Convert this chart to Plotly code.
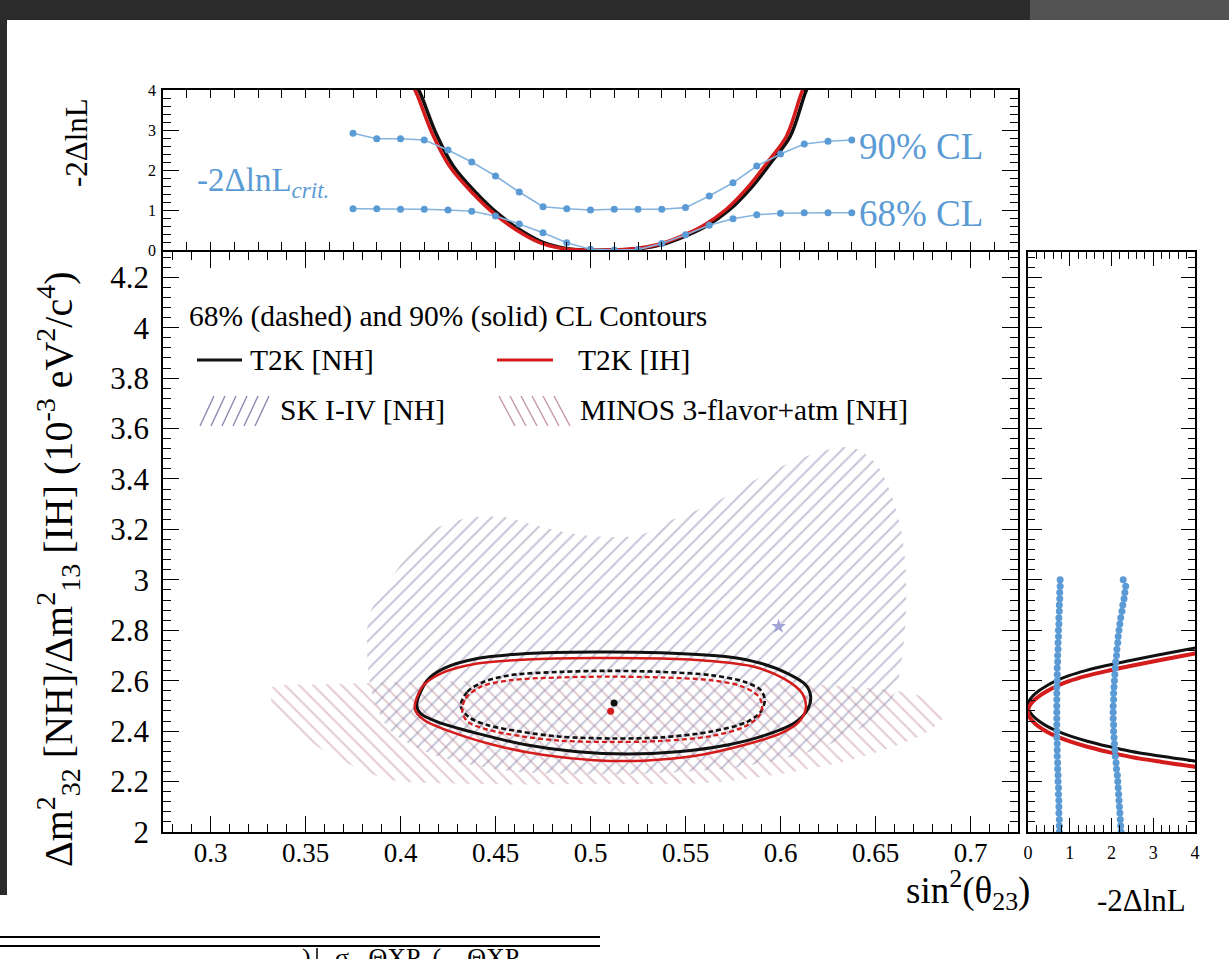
import plotly.graph_objects as go

W, H = 1229, 959

# ---------------- data ----------------
# top panel: T2K profile -2ΔlnL vs sin^2(theta23)
top_sin2_nh = [0.404, 0.410, 0.419, 0.428, 0.440, 0.451, 0.463, 0.475, 0.487, 0.499, 0.511,
               0.525, 0.537, 0.549, 0.561, 0.573, 0.585, 0.596, 0.605, 0.613, 0.618]
top_sin2_ih = [0.402, 0.408, 0.417, 0.426, 0.438, 0.449, 0.461, 0.473, 0.485, 0.497, 0.509,
               0.523, 0.535, 0.547, 0.559, 0.571, 0.583, 0.594, 0.603, 0.611, 0.616]
top_nll = [4.5, 3.96, 2.88, 2.08, 1.42, 0.92, 0.50, 0.19, 0.04, 0.0, 0.0,
           0.03, 0.13, 0.33, 0.60, 1.00, 1.58, 2.25, 2.83, 3.92, 4.5]

# top panel: critical values
scan_sin2 = [0.375, 0.3875, 0.4, 0.4125, 0.425, 0.4375, 0.45, 0.4625, 0.475, 0.4875, 0.5,
             0.5125, 0.525, 0.5375, 0.55, 0.5625, 0.575, 0.5875, 0.6, 0.6125, 0.625, 0.6375]
crit90_top = [2.92, 2.78, 2.78, 2.75, 2.50, 2.20, 1.85, 1.45, 1.08, 1.03, 1.00,
              1.02, 1.02, 1.02, 1.06, 1.35, 1.68, 2.10, 2.40, 2.65, 2.72, 2.75]
crit68_top = [1.03, 1.03, 1.02, 1.02, 1.00, 0.97, 0.85, 0.65, 0.43, 0.18, 0.02,
              0.00, 0.01, 0.16, 0.38, 0.62, 0.78, 0.88, 0.92, 0.93, 0.93, 0.93]

# right panel: T2K profile vs Δm²
right_dm_nh = [2.27, 2.28, 2.30, 2.32, 2.34, 2.36, 2.38, 2.40, 2.42, 2.44, 2.46, 2.48, 2.50,
               2.52, 2.54, 2.56, 2.58, 2.60, 2.62, 2.64, 2.66, 2.68, 2.70, 2.72, 2.74]
right_dm_ih = [2.248, 2.258, 2.278, 2.298, 2.318, 2.338, 2.358, 2.378, 2.398, 2.418, 2.438, 2.458, 2.478,
               2.498, 2.518, 2.538, 2.558, 2.578, 2.598, 2.618, 2.638, 2.658, 2.678, 2.698, 2.718]
right_nll = [4.5, 4.05, 3.2, 2.45, 1.9, 1.42, 1.02, 0.7, 0.45, 0.26, 0.12, 0.03, 0.0,
             0.03, 0.12, 0.26, 0.45, 0.68, 0.98, 1.38, 1.88, 2.45, 3.05, 3.68, 4.35]

# right panel: critical values
scan_dm = [2.0, 2.025, 2.05, 2.075, 2.1, 2.125, 2.15, 2.175, 2.2, 2.225, 2.25, 2.275, 2.3, 2.325,
           2.35, 2.375, 2.4, 2.425, 2.45, 2.475, 2.5, 2.525, 2.55, 2.575, 2.6, 2.625, 2.65, 2.675,
           2.7, 2.725, 2.75, 2.775, 2.8, 2.825, 2.85, 2.875, 2.9, 2.925, 2.95, 2.975, 3.0]
crit90_right = [2.23, 2.22, 2.21, 2.20, 2.19, 2.18, 2.17, 2.16, 2.15, 2.14, 2.12, 2.11, 2.09, 2.08,
                2.07, 2.06, 2.05, 2.05, 2.04, 2.04, 2.04, 2.05, 2.05, 2.06, 2.07, 2.08, 2.09, 2.10,
                2.12, 2.13, 2.15, 2.16, 2.18, 2.20, 2.22, 2.25, 2.27, 2.30, 2.32, 2.34, 2.28]
crit68_right = [0.75, 0.75, 0.75, 0.74, 0.74, 0.74, 0.73, 0.73, 0.72, 0.72, 0.71, 0.71, 0.70, 0.70,
                0.70, 0.69, 0.69, 0.69, 0.69, 0.69, 0.69, 0.69, 0.69, 0.69, 0.70, 0.70, 0.70, 0.71,
                0.71, 0.72, 0.72, 0.73, 0.73, 0.74, 0.74, 0.75, 0.75, 0.76, 0.76, 0.77, 0.77]

# main panel contours
nh90_x = [0.4085, 0.4141, 0.4229, 0.4404, 0.4667, 0.5018, 0.5369, 0.5720, 0.5896, 0.6036, 0.6133, 0.6159,
          0.6141, 0.6071, 0.5896, 0.5720, 0.5457, 0.5194, 0.4931, 0.4667, 0.4404, 0.4194, 0.4106, 0.4085]
nh90_y = [2.503, 2.602, 2.649, 2.688, 2.708, 2.714, 2.711, 2.695, 2.669, 2.629, 2.583, 2.536,
          2.484, 2.431, 2.378, 2.345, 2.318, 2.309, 2.318, 2.345, 2.391, 2.437, 2.470, 2.503]
ih90_x = [0.4075, 0.4115, 0.4211, 0.4404, 0.4667, 0.5018, 0.5369, 0.5633, 0.5861, 0.6018, 0.6115, 0.6133,
          0.6097, 0.6001, 0.5808, 0.5545, 0.5282, 0.5018, 0.4755, 0.4492, 0.4264, 0.4124, 0.4075]
ih90_y = [2.490, 2.576, 2.628, 2.668, 2.684, 2.690, 2.688, 2.678, 2.655, 2.608, 2.549, 2.490,
          2.437, 2.391, 2.345, 2.301, 2.283, 2.285, 2.305, 2.345, 2.398, 2.444, 2.490]
nh68_x = [0.4317, 0.4352, 0.4439, 0.4580, 0.4843, 0.5106, 0.5369, 0.5633, 0.5808, 0.5896, 0.5917,
          0.5896, 0.5825, 0.5633, 0.5369, 0.5106, 0.4843, 0.4633, 0.4457, 0.4361, 0.4317]
nh68_y = [2.499, 2.556, 2.596, 2.622, 2.635, 2.639, 2.635, 2.622, 2.596, 2.563, 2.523,
          2.477, 2.437, 2.398, 2.375, 2.371, 2.378, 2.398, 2.424, 2.455, 2.499]
ih68_x = [0.4325, 0.4343, 0.4422, 0.4580, 0.4843, 0.5106, 0.5369, 0.5633, 0.5790, 0.5878, 0.5904,
          0.5887, 0.5808, 0.5633, 0.5369, 0.5106, 0.4843, 0.4633, 0.4457, 0.4355, 0.4325]
ih68_y = [2.477, 2.530, 2.576, 2.602, 2.613, 2.616, 2.613, 2.602, 2.579, 2.543, 2.503,
          2.460, 2.417, 2.380, 2.361, 2.357, 2.362, 2.380, 2.406, 2.437, 2.477]

bestfit_nh = ([0.5124], [2.512])
bestfit_ih = ([0.5106], [2.479])
bestfit_sk = ([0.599], [2.815])

# SK I-IV 90% region (hatched)
sk_x = [0.3834, 0.3980, 0.4173, 0.4342, 0.4535, 0.4704, 0.4897, 0.5090, 0.5259, 0.5428, 0.5645,
        0.5863, 0.6104, 0.6322, 0.6418, 0.6515, 0.6587, 0.6635, 0.6659, 0.6659, 0.6635, 0.660,
        0.650, 0.620, 0.580, 0.520, 0.460, 0.420, 0.395, 0.385, 0.3834]
sk_y = [2.853, 3.038, 3.197, 3.243, 3.250, 3.217, 3.184, 3.170, 3.177, 3.237, 3.303,
        3.395, 3.481, 3.527, 3.514, 3.448, 3.329, 3.197, 3.038, 2.853, 2.669, 2.55,
        2.45, 2.33, 2.26, 2.23, 2.24, 2.30, 2.40, 2.55, 2.853]
# MINOS region (hatched)
minos_x = [0.332, 0.360, 0.400, 0.450, 0.500, 0.550, 0.600, 0.640, 0.668, 0.683, 0.686, 0.678, 0.660,
           0.634, 0.600, 0.562, 0.500, 0.440, 0.393, 0.365, 0.345, 0.333, 0.332]
minos_y = [2.57, 2.585, 2.595, 2.60, 2.60, 2.60, 2.59, 2.575, 2.55, 2.51, 2.46, 2.40, 2.34,
           2.28, 2.23, 2.195, 2.19, 2.19, 2.21, 2.30, 2.40, 2.50, 2.57]

# tick labels
main_x_tickvals = [0.3, 0.35, 0.4, 0.45, 0.5, 0.55, 0.6, 0.65, 0.7]
main_x_ticktext = ['0.3', '0.35', '0.4', '0.45', '0.5', '0.55', '0.6', '0.65', '0.7']
main_y_tickvals = [2.0, 2.2, 2.4, 2.6, 2.8, 3.0, 3.2, 3.4, 3.6, 3.8, 4.0, 4.2]
main_y_ticktext = ['2', '2.2', '2.4', '2.6', '2.8', '3', '3.2', '3.4', '3.6', '3.8', '4', '4.2']
nll_tickvals = [0, 1, 2, 3, 4]
nll_ticktext = ['0', '1', '2', '3', '4']

# ---------------- styling ----------------
SERIF = "Liberation Serif, Times New Roman, Times, serif"
BLACK = "#111111"
RED = "#d41c1c"
BLUE = "#5b9bd5"
SKC = "#8a8ab0"
MINC = "#c596a3"


def X(px):
    return px / W


def Y(py):
    return 1 - py / H


fig = go.Figure()

# --- main panel hatched regions ---
fig.add_trace(go.Scatter(x=minos_x, y=minos_y, mode='lines', fill='toself', line=dict(width=0, shape='spline', smoothing=0.8),
                         fillcolor='rgba(0,0,0,0)',
                         fillpattern=dict(shape='\\', fgcolor=MINC, bgcolor='rgba(0,0,0,0)', size=10, solidity=0.2),
                         xaxis='x', yaxis='y', showlegend=False, hoverinfo='skip'))
fig.add_trace(go.Scatter(x=sk_x, y=sk_y, mode='lines', fill='toself', line=dict(width=0, shape='spline', smoothing=0.8),
                         fillcolor='rgba(0,0,0,0)',
                         fillpattern=dict(shape='/', fgcolor=SKC, bgcolor='rgba(0,0,0,0)', size=10, solidity=0.2),
                         xaxis='x', yaxis='y', showlegend=False, hoverinfo='skip'))

# --- contours ---
for cx, cy, col, w, dash in [(nh90_x, nh90_y, BLACK, 3, 'solid'), (ih90_x, ih90_y, RED, 2.5, 'solid'),
                             (nh68_x, nh68_y, BLACK, 2.6, '5px,3px'), (ih68_x, ih68_y, RED, 2.3, '5px,3px')]:
    fig.add_trace(go.Scatter(x=cx, y=cy, mode='lines', line=dict(color=col, width=w, dash=dash, shape='spline', smoothing=0.9),
                             xaxis='x', yaxis='y', showlegend=False, hoverinfo='skip'))

fig.add_trace(go.Scatter(x=bestfit_nh[0], y=bestfit_nh[1], mode='markers', marker=dict(color=BLACK, size=7),
                         xaxis='x', yaxis='y', showlegend=False))
fig.add_trace(go.Scatter(x=bestfit_ih[0], y=bestfit_ih[1], mode='markers', marker=dict(color=RED, size=7),
                         xaxis='x', yaxis='y', showlegend=False))
fig.add_trace(go.Scatter(x=bestfit_sk[0], y=bestfit_sk[1], mode='markers', marker=dict(color='#a3a3d6', size=11, symbol='star'),
                         xaxis='x', yaxis='y', showlegend=False))

# --- top panel ---
fig.add_trace(go.Scatter(x=top_sin2_nh, y=top_nll, mode='lines', line=dict(color=BLACK, width=3.5, shape='spline'),
                         xaxis='x2', yaxis='y2', showlegend=False, hoverinfo='skip'))
fig.add_trace(go.Scatter(x=top_sin2_ih, y=top_nll, mode='lines', line=dict(color=RED, width=3.5, shape='spline'),
                         xaxis='x2', yaxis='y2', showlegend=False, hoverinfo='skip'))
for vals in (crit90_top, crit68_top):
    fig.add_trace(go.Scatter(x=scan_sin2, y=vals, mode='lines+markers',
                             line=dict(color='#86b4df', width=1.6), marker=dict(color=BLUE, size=7),
                             xaxis='x2', yaxis='y2', showlegend=False, hoverinfo='skip'))

# --- right panel ---
fig.add_trace(go.Scatter(x=right_nll, y=right_dm_nh, mode='lines', line=dict(color=BLACK, width=3, shape='spline'),
                         xaxis='x3', yaxis='y3', showlegend=False, hoverinfo='skip'))
fig.add_trace(go.Scatter(x=right_nll, y=right_dm_ih, mode='lines', line=dict(color=RED, width=4, shape='spline'),
                         xaxis='x3', yaxis='y3', showlegend=False, hoverinfo='skip'))
for vals in (crit68_right, crit90_right):
    fig.add_trace(go.Scatter(x=vals, y=scan_dm, mode='lines+markers',
                             line=dict(color='#86b4df', width=1.5), marker=dict(color=BLUE, size=7),
                             xaxis='x3', yaxis='y3', showlegend=False, hoverinfo='skip'))

axis_common = dict(showline=True, linecolor='black', linewidth=1.6, ticks='inside', mirror='ticks',
                   tickcolor='black', tickwidth=1.3, showgrid=False, zeroline=False, automargin=False,
                   tickfont=dict(family=SERIF, size=27, color='black'))

main_x_dom = [X(163), X(1018)]
main_y_dom = [Y(832), Y(252)]
top_y_dom = [Y(250), Y(90)]
right_x_dom = [X(1028), X(1195)]

fig.update_layout(
    autosize=True, margin=dict(l=0, r=0, t=0, b=0, pad=0),
    paper_bgcolor='white', plot_bgcolor='rgba(0,0,0,0)',
    font=dict(family=SERIF, color='black'),
    showlegend=False,
    xaxis=dict(axis_common, domain=main_x_dom, range=[0.275, 0.725], anchor='y',
               tickmode='array', tickvals=main_x_tickvals, ticktext=main_x_ticktext, ticklen=16,
               ticklabelstandoff=-4,
               minor=dict(ticks='inside', ticklen=8, dtick=0.01, tick0=0.3, tickcolor='black', tickwidth=1.2)),
    yaxis=dict(axis_common, domain=main_y_dom, range=[2, 4.3], anchor='x',
               tickmode='array', tickvals=main_y_tickvals, ticktext=main_y_ticktext, ticklen=16,
               tickfont=dict(family=SERIF, size=31, color='black'), ticklabelstandoff=6,
               minor=dict(ticks='inside', ticklen=8, dtick=0.04, tick0=2, tickcolor='black', tickwidth=1.2)),
    xaxis2=dict(axis_common, domain=main_x_dom, range=[0.275, 0.725], anchor='y2',
                showticklabels=False, tick0=0.275, dtick=0.0125, ticklen=8),
    yaxis2=dict(axis_common, domain=top_y_dom, range=[0, 4], anchor='x2',
                tickmode='array', tickvals=nll_tickvals, ticktext=nll_ticktext, ticklen=16,
                tickfont=dict(family=SERIF, size=16, color='black'), ticklabelstandoff=2,
                minor=dict(ticks='inside', ticklen=8, dtick=0.2, tick0=0, tickcolor='black', tickwidth=1.2)),
    xaxis3=dict(axis_common, domain=right_x_dom, range=[0, 4], anchor='y3',
                tickmode='array', tickvals=nll_tickvals, ticktext=nll_ticktext, ticklen=14,
                tickfont=dict(family=SERIF, size=18, color='black'), ticklabelstandoff=4,
                minor=dict(ticks='inside', ticklen=7, dtick=0.2, tick0=0, tickcolor='black', tickwidth=1.2)),
    yaxis3=dict(axis_common, domain=main_y_dom, range=[2, 4.3], anchor='x3',
                showticklabels=False, tickmode='array', tickvals=main_y_tickvals, ticklen=14,
                minor=dict(ticks='inside', ticklen=7, dtick=0.04, tick0=2, tickcolor='black', tickwidth=1.2)),
)

shapes = []
# page decorations (dark screen border)
shapes.append(dict(type='rect', xref='paper', yref='paper', x0=0, x1=X(1030), y0=Y(20), y1=1,
                   fillcolor='#2b2b2b', line=dict(width=0), layer='above'))
shapes.append(dict(type='rect', xref='paper', yref='paper', x0=X(1030), x1=1, y0=Y(20), y1=1,
                   fillcolor='#525252', line=dict(width=0), layer='above'))
shapes.append(dict(type='rect', xref='paper', yref='paper', x0=0, x1=X(7), y0=Y(895), y1=1,
                   fillcolor='#2b2b2b', line=dict(width=0), layer='above'))
# table rules below
for py in (937, 946):
    shapes.append(dict(type='line', xref='paper', yref='paper', x0=0, x1=X(600), y0=Y(py), y1=Y(py),
                       line=dict(color='black', width=2)))
shapes.append(dict(type='line', xref='paper', yref='paper', x0=X(317), x1=X(317), y0=Y(948), y1=0,
                   line=dict(color='black', width=1.5)))

# legend glyphs
shapes.append(dict(type='line', xref='paper', yref='paper', x0=X(197), x1=X(242), y0=Y(360), y1=Y(360),
                   line=dict(color=BLACK, width=3)))
shapes.append(dict(type='line', xref='paper', yref='paper', x0=X(497), x1=X(553), y0=Y(360), y1=Y(360),
                   line=dict(color=RED, width=3)))
for i in range(6):
    x0 = 200 + i * 11
    shapes.append(dict(type='line', xref='paper', yref='paper', x0=X(x0), x1=X(x0 + 14), y0=Y(426), y1=Y(396),
                       line=dict(color=SKC, width=1.4)))
    x1 = 499 + i * 11
    shapes.append(dict(type='line', xref='paper', yref='paper', x0=X(x1), x1=X(x1 + 16), y0=Y(396), y1=Y(426),
                       line=dict(color=MINC, width=1.4)))
fig.update_layout(shapes=shapes)

ann = []


def add_text(text, px, py, size, xanchor='left', color='black', angle=0, yanchor='middle'):
    ann.append(dict(text=text, x=X(px), y=Y(py), xref='paper', yref='paper', showarrow=False,
                    xanchor=xanchor, yanchor=yanchor, textangle=angle,
                    font=dict(family=SERIF, size=size, color=color)))


add_text("68% (dashed) and 90% (solid) CL Contours", 187, 316, 29.5)
add_text("T2K [NH]", 248, 360, 29.5)
add_text("T2K [IH]", 576, 360, 29.5)
add_text("SK I-IV [NH]", 278, 410, 29.5)
add_text("MINOS 3-flavor+atm [NH]", 578, 410, 29.5)

add_text("-2ΔlnL<sub><i>crit.</i></sub>", 195, 182, 33, color=BLUE)
add_text("90% CL", 857, 146, 37, color=BLUE)
add_text("68% CL", 857, 214, 37, color=BLUE)

add_text("Δm<sup>2</sup><sub>32</sub> [NH]/Δm<sup>2</sup><sub>13</sub> [IH] (10<sup>-3</sup> eV<sup>2</sup>/c<sup>4</sup>)",
         58, 569, 40, xanchor='center', angle=-90)
add_text("-2ΔlnL", 76, 143, 31, xanchor='center', angle=-90)
add_text("sin<sup>2</sup>(θ<sub>23</sub>)", 1032, 890, 37, xanchor='right')
add_text("-2ΔlnL", 1141, 900, 31, xanchor='center')

# cut-off table text at the bottom edge
add_text(")", 300, 941, 26, yanchor='top')
add_text("σ   ΘXP  (    ΘXP", 333, 941, 26, yanchor='top')

fig.update_layout(annotations=ann)

fig.write_html(
    "out.html",
    config={'displayModeBar': False},
    default_width="1229px; position:absolute; left:0; top:0; margin:0",
    default_height="959px",
    post_script="document.body.style.margin='0';document.body.style.overflow='hidden';",
)
